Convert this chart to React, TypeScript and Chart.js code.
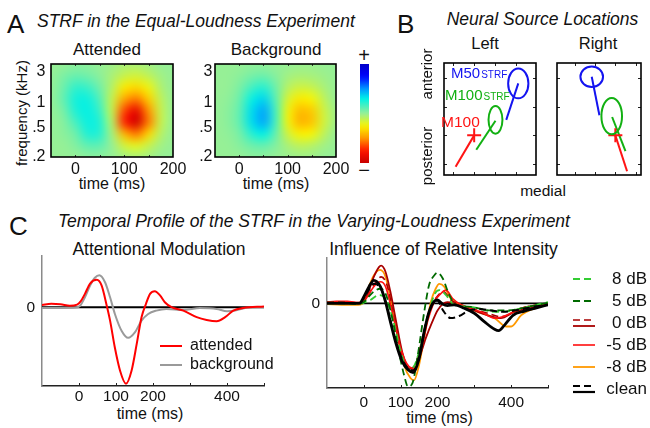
import React, { useEffect, useRef } from 'react';
import { Chart, registerables } from 'chart.js';

Chart.register(...registerables);

const FONT = '"Liberation Sans", Arial, Helvetica, sans-serif';
Chart.defaults.font.family = FONT;
Chart.defaults.color = '#111';

// ---------------- Panel A: STRF heatmaps ----------------
const strfTimes = [-50, -25, 0, 25, 50, 75, 100, 125, 150, 175, 200];
const strfFreqRows = [1, 0.875, 0.75, 0.625, 0.5, 0.375, 0.25, 0.125, 0];
const strfAttended = [
  [0, 0, 0.02, 0.02, 0, -0.02, -0.05, -0.05, -0.03, 0, 0],
  [0, 0.05, 0.09, 0.07, 0.02, -0.05, -0.12, -0.15, -0.1, -0.03, 0],
  [0, 0.08, 0.2, 0.18, 0.07, -0.08, -0.28, -0.32, -0.22, -0.06, 0],
  [0, 0.1, 0.26, 0.27, 0.13, -0.12, -0.45, -0.55, -0.35, -0.1, 0],
  [0, 0.06, 0.24, 0.29, 0.18, -0.12, -0.65, -0.87, -0.5, -0.12, 0],
  [0, 0.03, 0.16, 0.28, 0.23, -0.08, -0.72, -0.97, -0.55, -0.12, 0],
  [0, 0.02, 0.08, 0.24, 0.22, -0.04, -0.42, -0.56, -0.33, -0.08, 0],
  [0, 0, 0.04, 0.11, 0.11, 0, -0.15, -0.2, -0.12, -0.03, 0],
  [0, 0, 0, 0.02, 0.02, 0, -0.03, -0.05, -0.03, 0, 0],
];
const strfBackground = [
  [0, 0, 0, 0.01, 0.01, 0, 0, -0.01, -0.01, 0, 0],
  [0, 0, 0.02, 0.06, 0.08, 0.03, -0.03, -0.05, -0.04, -0.02, 0],
  [0, 0, 0.05, 0.16, 0.22, 0.08, -0.08, -0.14, -0.12, -0.05, 0],
  [0, 0.01, 0.08, 0.28, 0.36, 0.12, -0.16, -0.28, -0.24, -0.1, 0],
  [0, 0.02, 0.1, 0.34, 0.46, 0.16, -0.22, -0.4, -0.36, -0.14, -0.02],
  [0, 0.02, 0.1, 0.34, 0.46, 0.16, -0.22, -0.42, -0.38, -0.15, -0.02],
  [0, 0.01, 0.06, 0.22, 0.3, 0.1, -0.14, -0.26, -0.24, -0.1, 0],
  [0, 0, 0.03, 0.08, 0.1, 0.04, -0.05, -0.1, -0.08, -0.03, 0],
  [0, 0, 0, 0.02, 0.02, 0, -0.01, -0.02, -0.02, 0, 0],
];
const strfTimeTicks = [0, 100, 200];
const strfTimeMinorTicks = [0, 50, 100, 150];
const freqTickPos = [0.914, 0.581, 0.312, 0.0];
const freqTickLabels = ['3', '1', '.5', '.2'];
const colorbarLevels = [1, 0.9, 0.8, 0.7, 0.6, 0.5, 0.4, 0.3, 0.2, 0.1, 0, -0.1, -0.2, -0.3, -0.4, -0.5, -0.6, -0.7, -0.8, -0.9, -1];

// ---------------- Panel B: source locations ----------------
const bTicks = [1, 2, 3, 4];
const leftEllCx = [4.09, 3.01];
const leftEllCy = [3.81, 2.54];
const leftEllRx = [0.48, 0.33];
const leftEllRy = [0.52, 0.48];
const leftSegX = [[4.09, 3.52], [3.01, 2.1], [2.0, 1.12]];
const leftSegY = [[3.81, 2.54], [2.51, 1.5], [2.0, 0.91]];
const leftCross = [2.0, 2.0];
const rightEllCx = [1.83, 2.82];
const rightEllCy = [4.04, 2.67];
const rightEllRx = [0.56, 0.51];
const rightEllRy = [0.36, 0.63];
const rightSegX = [[1.83, 2.21], [2.84, 3.5], [3.0, 3.58]];
const rightSegY = [[4.04, 2.7], [2.64, 1.45], [2.0, 0.75]];
const rightCross = [3.0, 2.0];

// ---------------- Panel C: temporal profiles ----------------
const cTickValues = [0, 100, 200, 300, 400];
const cTickLabels = ['0', '100', '200', '', '400'];
const cMinorTicks = [0, 100, 200, 300, 400, 500];
const zeroLineTime = [-100, 500];
const zeroLineValue = [0, 0];

const attendedTime = [-100, -75, -50, -25, -5, 5, 16, 30, 48, 61, 75, 84, 97, 111, 127, 142, 156, 169, 181, 192, 205, 219, 232, 250, 282, 318, 345, 372, 395, 417, 444, 500];
const attendedValue = [0.03, 0.045, 0.04, 0.02, 0.035, 0.08, 0.175, 0.31, 0.36, 0.285, 0.02, -0.175, -0.53, -0.83, -1.0, -0.83, -0.48, -0.13, 0.045, 0.175, 0.21, 0.155, 0.065, 0.0, -0.045, -0.13, -0.167, -0.184, -0.13, -0.045, -0.01, 0.01];
const backgroundTime = [-100, -50, -10, 3, 16, 30, 43, 55, 70, 84, 97, 115, 133, 151, 169, 187, 209, 236, 282, 327, 372, 400, 422, 449, 500];
const backgroundValue = [-0.01, -0.01, -0.005, 0.02, 0.13, 0.285, 0.386, 0.417, 0.33, 0.13, -0.088, -0.307, -0.4, -0.33, -0.175, -0.088, -0.044, -0.022, -0.035, -0.01, -0.022, -0.053, -0.044, -0.01, 0];

const cleanTime = [-100, -60, -12, 0, 14, 27, 45, 59, 72, 86, 104, 120, 134, 150, 164, 177, 191, 200, 214, 227, 245, 273, 300, 327, 355, 366, 382, 405, 436, 464, 500];
const cleanValue = [0, 0, 0, 0.095, 0.24, 0.33, 0.24, 0.02, -0.26, -0.55, -0.83, -0.95, -0.99, -0.79, -0.4, -0.12, 0.03, 0.05, -0.01, -0.03, -0.02, -0.07, -0.14, -0.26, -0.37, -0.39, -0.31, -0.17, -0.11, -0.07, -0.02];
const cleanDashTime = [-100, -60, -12, 0, 14, 27, 45, 59, 72, 86, 104, 120, 134, 150, 164, 177, 191, 200, 215, 236, 259, 286, 314, 345, 380, 420, 460, 500];
const cleanDashValue = [0.01, 0.01, 0, 0.08, 0.2, 0.28, 0.22, 0.03, -0.24, -0.52, -0.8, -0.93, -0.96, -0.77, -0.4, -0.12, 0.03, 0.04, -0.1, -0.21, -0.18, -0.1, -0.08, -0.1, -0.12, -0.09, -0.05, -0.02];
const db0Time = [-100, -60, -20, 0, 9, 27, 41, 47, 59, 72, 86, 104, 122, 136, 150, 168, 186, 200, 214, 227, 250, 290, 336, 372, 409, 464, 500];
const db0Value = [0.02, 0.02, 0.01, 0.03, 0.12, 0.38, 0.52, 0.54, 0.45, 0.17, -0.21, -0.69, -0.93, -0.94, -0.79, -0.5, -0.26, -0.1, -0.01, 0.02, -0.01, -0.08, -0.17, -0.21, -0.12, -0.05, 0];
const db0DashTime = [-100, -60, -20, 0, 10, 27, 47, 63, 82, 104, 125, 141, 159, 177, 195, 216, 236, 264, 336, 372, 427, 500];
const db0DashValue = [0.01, 0.02, 0.01, 0.02, 0.1, 0.26, 0.38, 0.26, -0.21, -0.74, -0.93, -0.86, -0.5, -0.12, 0.07, 0.17, 0.05, -0.02, -0.14, -0.19, -0.07, 0];
const dbM5Time = [-100, -75, -45, -15, 0, 10, 27, 45, 59, 77, 100, 122, 138, 155, 173, 191, 209, 223, 241, 264, 318, 355, 377, 427, 500];
const dbM5Value = [0.02, 0.03, 0.03, 0.01, 0.03, 0.1, 0.24, 0.31, 0.24, -0.12, -0.64, -0.9, -0.93, -0.69, -0.26, 0.02, 0.14, 0.19, 0.07, -0.02, -0.12, -0.21, -0.19, -0.07, 0];
const dbM8Time = [-100, -60, -15, 0, 9, 27, 44, 59, 72, 91, 109, 127, 136, 150, 168, 182, 195, 205, 218, 236, 264, 309, 355, 386, 400, 427, 464, 500];
const dbM8Value = [-0.01, -0.02, -0.02, 0.02, 0.17, 0.4, 0.48, 0.38, 0.07, -0.45, -0.88, -1.07, -1.1, -0.88, -0.36, 0.02, 0.21, 0.28, 0.24, 0.07, -0.02, -0.12, -0.21, -0.33, -0.33, -0.17, -0.07, -0.01];
const db8Time = [-100, -60, -15, 0, 18, 41, 59, 77, 100, 120, 136, 155, 173, 191, 205, 223, 245, 291, 355, 391, 445, 500];
const db8Value = [0, 0, -0.01, 0.01, 0.05, 0.12, 0.07, -0.19, -0.69, -0.95, -0.9, -0.6, -0.21, 0.12, 0.19, 0.12, -0.02, -0.05, -0.12, -0.11, -0.05, 0.02];
const db5Time = [-100, -60, -15, 0, 10, 27, 44, 59, 77, 95, 109, 120, 132, 145, 164, 177, 191, 200, 214, 232, 250, 291, 345, 391, 445, 500];
const db5Value = [0.01, 0.01, 0, 0.02, 0.08, 0.17, 0.21, 0.14, -0.21, -0.69, -1.02, -1.19, -1.14, -0.79, -0.12, 0.26, 0.4, 0.44, 0.36, 0.12, -0.02, -0.05, -0.1, -0.1, -0.05, 0.01];
const intensityLabels = ['8 dB', '5 dB', '0 dB', '-5 dB', '-8 dB', 'clean'];

// ---------------- styling ----------------
const BLUE = '#1414f0';
const GREEN = '#12b012';
const RED = '#ff1414';

const colorStops: [number, number[]][] = [
  [1, [0, 0, 200]],
  [0.75, [0, 0, 255]],
  [0.5, [0, 150, 255]],
  [0.3, [0, 240, 230]],
  [0, [150, 240, 150]],
  [-0.25, [250, 245, 0]],
  [-0.5, [255, 150, 0]],
  [-0.75, [255, 20, 0]],
  [-1, [200, 0, 0]],
];
function strfColor(v: number): number[] {
  if (v >= colorStops[0][0]) return colorStops[0][1];
  for (let i = 0; i < colorStops.length - 1; i++) {
    const [a, ca] = colorStops[i];
    const [b, cb] = colorStops[i + 1];
    if (v <= a && v >= b) {
      const f = (a - v) / (a - b);
      return [0, 1, 2].map((k) => Math.round(ca[k] + (cb[k] - ca[k]) * f));
    }
  }
  return colorStops[colorStops.length - 1][1];
}

const fixSize = (w?: number, h?: number) => (s: any) => {
  if (w !== undefined) s.width = w;
  if (h !== undefined) s.height = h;
  s.paddingTop = 0;
  s.paddingBottom = 0;
  s.paddingLeft = 0;
  s.paddingRight = 0;
};

function drawGridImage(chart: any, grid: number[][], cols: number[], rows: number[], blur: number) {
  const { ctx, chartArea: ca, scales } = chart;
  const xs = scales.x;
  const ys = scales.y;
  const nC = cols.length;
  const nR = rows.length;
  const off = document.createElement('canvas');
  off.width = nC;
  off.height = nR;
  const octx = off.getContext('2d')!;
  const img = octx.createImageData(nC, nR);
  for (let r = 0; r < nR; r++) {
    for (let c = 0; c < nC; c++) {
      const col = strfColor(grid[r][c]);
      const k = (r * nC + c) * 4;
      img.data[k] = col[0];
      img.data[k + 1] = col[1];
      img.data[k + 2] = col[2];
      img.data[k + 3] = 255;
    }
  }
  octx.putImageData(img, 0, 0);
  const x0 = xs.getPixelForValue(cols[0]);
  const x1 = xs.getPixelForValue(cols[nC - 1]);
  const cw = nC > 1 ? (x1 - x0) / (nC - 1) : ca.right - ca.left;
  const y0 = ys.getPixelForValue(rows[0]);
  const y1 = ys.getPixelForValue(rows[nR - 1]);
  const ch = (y1 - y0) / (nR - 1);
  ctx.save();
  ctx.beginPath();
  ctx.rect(ca.left, ca.top, ca.right - ca.left, ca.bottom - ca.top);
  ctx.clip();
  const bg = strfColor(0);
  ctx.fillStyle = `rgb(${bg[0]},${bg[1]},${bg[2]})`;
  ctx.fillRect(ca.left, ca.top, ca.right - ca.left, ca.bottom - ca.top);
  ctx.imageSmoothingEnabled = true;
  (ctx as any).imageSmoothingQuality = 'high';
  if (blur > 0) ctx.filter = `blur(${blur}px)`;
  ctx.drawImage(off, x0 - cw / 2, y0 - ch / 2, cw * nC, ch * nR);
  ctx.filter = 'none';
  ctx.restore();
}

function heatmapPlugin(grid: number[][]) {
  return {
    id: 'strfHeatmap',
    beforeDatasetsDraw(chart: any) {
      drawGridImage(chart, grid, strfTimes, strfFreqRows, 2.5);
    },
    afterDraw(chart: any) {
      const { ctx, chartArea: ca, scales } = chart;
      ctx.save();
      ctx.strokeStyle = '#333';
      ctx.lineWidth = 1;
      for (const t of strfTimeMinorTicks) {
        const x = Math.round(scales.x.getPixelForValue(t)) + 0.5;
        ctx.beginPath();
        ctx.moveTo(x, ca.top);
        ctx.lineTo(x, ca.top + 2);
        ctx.moveTo(x, ca.bottom);
        ctx.lineTo(x, ca.bottom - 2);
        ctx.stroke();
      }
      ctx.strokeStyle = '#000';
      ctx.lineWidth = 1.6;
      ctx.strokeRect(ca.left, ca.top, ca.right - ca.left, ca.bottom - ca.top);
      ctx.restore();
    },
  };
}

function heatmapConfig(grid: number[][], yWidth: number, yPad: number, padTop: number, padRight: number): any {
  return {
    type: 'scatter',
    data: { datasets: [] },
    plugins: [heatmapPlugin(grid)],
    options: {
      responsive: false,
      animation: false,
      events: [],
      layout: { padding: { top: padTop, right: padRight, left: 0, bottom: 0 } },
      plugins: { legend: { display: false }, tooltip: { enabled: false } },
      scales: {
        x: {
          type: 'linear',
          min: -50,
          max: 200,
          afterBuildTicks: (s: any) => { s.ticks = strfTimeTicks.map((v) => ({ value: v })); },
          afterFit: fixSize(undefined, 43),
          grid: { display: false, drawTicks: false },
          border: { display: false },
          ticks: { font: { size: 16 }, padding: 3.4, maxRotation: 0, autoSkip: false, color: '#111' },
        },
        y: {
          type: 'linear',
          min: 0,
          max: 1,
          afterBuildTicks: (s: any) => { s.ticks = freqTickPos.map((v) => ({ value: v })); },
          afterFit: fixSize(yWidth, undefined),
          grid: { display: false, drawTicks: false },
          border: { display: false },
          ticks: {
            font: { size: 16 },
            padding: yPad,
            autoSkip: false,
            color: '#111',
            callback: (_v: any, i: number) => freqTickLabels[i],
          },
        },
      },
    },
  };
}

function colorbarConfig(): any {
  return {
    type: 'scatter',
    data: { datasets: [] },
    plugins: [
      {
        id: 'colorbar',
        beforeDatasetsDraw(chart: any) {
          const grid = colorbarLevels.map((l) => [l]);
          drawGridImage(chart, grid, [0.5], colorbarLevels, 0);
        },
      },
    ],
    options: {
      responsive: false,
      animation: false,
      events: [],
      layout: { padding: { left: 5, right: 6, top: 4, bottom: 7 } },
      plugins: { legend: { display: false }, tooltip: { enabled: false } },
      scales: {
        x: { type: 'linear', min: 0, max: 1, display: false, afterFit: fixSize() },
        y: { type: 'linear', min: -1, max: 1, display: false, afterFit: fixSize() },
      },
    },
  };
}

function sourceConfig(
  ell: { cx: number[]; cy: number[]; rx: number[]; ry: number[] },
  segX: number[][],
  segY: number[][],
  cross: number[],
  xMin: number,
  xMax: number,
  pad: { left: number; right: number; top: number; bottom: number }
): any {
  const segColors = [BLUE, GREEN, RED];
  const ellColors = [BLUE, GREEN];
  const datasets: any[] = segX.map((xs, i) => ({
    data: xs.map((x, j) => ({ x, y: segY[i][j] })),
    showLine: true,
    borderColor: segColors[i],
    borderWidth: 2,
    pointRadius: 0,
  }));
  datasets.unshift({
    data: [{ x: cross[0], y: cross[1] }],
    showLine: false,
    pointStyle: 'cross',
    pointRadius: 7,
    pointBorderWidth: 2,
    pointBorderColor: RED,
    borderColor: RED,
  });
  return {
    type: 'scatter',
    data: { datasets },
    plugins: [
      {
        id: 'sources',
        afterDatasetsDraw(chart: any) {
          const { ctx, scales } = chart;
          const xs = scales.x;
          const ys = scales.y;
          ctx.save();
          ctx.lineWidth = 2;
          ell.cx.forEach((cx: number, i: number) => {
            const px = xs.getPixelForValue(cx);
            const py = ys.getPixelForValue(ell.cy[i]);
            const rx = Math.abs(xs.getPixelForValue(cx + ell.rx[i]) - px);
            const ry = Math.abs(ys.getPixelForValue(ell.cy[i] + ell.ry[i]) - py);
            ctx.strokeStyle = ellColors[i];
            ctx.beginPath();
            ctx.ellipse(px, py, rx, ry, 0, 0, Math.PI * 2);
            ctx.stroke();
          });
          ctx.restore();
        },
        afterDraw(chart: any) {
          const { ctx, chartArea: ca, scales } = chart;
          ctx.save();
          ctx.strokeStyle = '#222';
          ctx.lineWidth = 1;
          for (const v of bTicks) {
            const x = Math.round(scales.x.getPixelForValue(v)) + 0.5;
            if (x > ca.left + 1 && x < ca.right - 1) {
              ctx.beginPath();
              ctx.moveTo(x, ca.bottom);
              ctx.lineTo(x, ca.bottom - 3);
              ctx.moveTo(x, ca.top);
              ctx.lineTo(x, ca.top + 3);
              ctx.stroke();
            }
            const y = Math.round(scales.y.getPixelForValue(v)) + 0.5;
            if (y > ca.top + 1 && y < ca.bottom - 1) {
              ctx.beginPath();
              ctx.moveTo(ca.left, y);
              ctx.lineTo(ca.left + 3, y);
              ctx.moveTo(ca.right, y);
              ctx.lineTo(ca.right - 3, y);
              ctx.stroke();
            }
          }
          ctx.strokeStyle = '#000';
          ctx.lineWidth = 1.6;
          ctx.strokeRect(ca.left, ca.top, ca.right - ca.left, ca.bottom - ca.top);
          ctx.restore();
        },
      },
    ],
    options: {
      responsive: false,
      animation: false,
      events: [],
      layout: { padding: pad },
      plugins: { legend: { display: false }, tooltip: { enabled: false } },
      scales: {
        x: { type: 'linear', min: xMin, max: xMax, display: false, afterFit: fixSize() },
        y: { type: 'linear', min: 0.62, max: 4.52, display: false, afterFit: fixSize() },
      },
    },
  };
}

type Series = { t: number[]; v: number[]; color: string; width: number; dash: number[] };

function lineDataset(s: Series): any {
  return {
    data: s.t.map((t, i) => ({ x: t, y: s.v[i] })),
    showLine: true,
    borderColor: s.color,
    borderWidth: s.width,
    borderDash: s.dash,
    pointRadius: 0,
    cubicInterpolationMode: 'monotone',
  };
}

function profileConfig(
  series: Series[],
  yMin: number,
  yMax: number,
  yWidth: number,
  xHeight: number,
  xPad: number,
  pad: any,
  legend: { labels: string[]; rows: Series[][]; dx: number; dy: number; gap: number; size: number; rightAlign: boolean }
): any {
  const zero: Series = { t: zeroLineTime, v: zeroLineValue, color: '#000', width: 1.8, dash: [] };
  const datasets = [...series, zero].map(lineDataset);
  return {
    type: 'scatter',
    data: { datasets },
    plugins: [
      {
        id: 'profileExtras',
        afterDraw(chart: any) {
          const { ctx, chartArea: ca, scales } = chart;
          ctx.save();
          ctx.strokeStyle = '#222';
          ctx.lineWidth = 1;
          for (const t of cMinorTicks) {
            const x = Math.round(scales.x.getPixelForValue(t)) + 0.5;
            ctx.beginPath();
            ctx.moveTo(x, ca.bottom);
            ctx.lineTo(x, ca.bottom - 3);
            ctx.stroke();
          }
          ctx.font = `${legend.size}px ${FONT}`;
          ctx.textBaseline = 'middle';
          ctx.fillStyle = '#111';
          legend.labels.forEach((lab, i) => {
            const y = ca.top + legend.dy + i * legend.gap;
            const x0 = legend.rightAlign ? ca.right + legend.dx : ca.left + legend.dx;
            const x1 = x0 + 22;
            const group = legend.rows[i];
            group.forEach((s, j) => {
              const off = group.length > 1 ? (j === 0 ? -3 : 3) : 0;
              ctx.strokeStyle = s.color;
              ctx.lineWidth = Math.min(s.width, 2.2);
              ctx.setLineDash(s.dash);
              ctx.beginPath();
              ctx.moveTo(x0, y + off);
              ctx.lineTo(x1, y + off);
              ctx.stroke();
            });
            ctx.setLineDash([]);
            if (legend.rightAlign) {
              ctx.textAlign = 'right';
              ctx.fillText(lab, chart.width - 3, y);
            } else {
              ctx.textAlign = 'left';
              ctx.fillText(lab, x1 + 8, y);
            }
          });
          ctx.restore();
        },
      },
    ],
    options: {
      responsive: false,
      animation: false,
      events: [],
      layout: { padding: pad },
      plugins: { legend: { display: false }, tooltip: { enabled: false } },
      scales: {
        x: {
          type: 'linear',
          min: -100,
          max: 500,
          afterBuildTicks: (s: any) => { s.ticks = cTickValues.map((v) => ({ value: v })); },
          afterFit: fixSize(undefined, xHeight),
          grid: { display: false, drawTicks: false },
          border: { display: true, color: '#222', width: 1.5 },
          ticks: {
            font: { size: 15.5 },
            padding: xPad,
            maxRotation: 0,
            autoSkip: false,
            color: '#111',
            callback: (_v: any, i: number) => cTickLabels[i],
          },
        },
        y: {
          type: 'linear',
          min: yMin,
          max: yMax,
          afterBuildTicks: (s: any) => { s.ticks = [{ value: 0 }]; },
          afterFit: fixSize(yWidth, undefined),
          grid: { display: false, drawTicks: false },
          border: { display: true, color: '#8a8a8a', width: 1.5 },
          ticks: { font: { size: 15.5 }, padding: 7, color: '#111', callback: () => '0' },
        },
      },
    },
  };
}

// ---------------- components ----------------
function ChartCanvas({ left, top, width, height, make }: { left: number; top: number; width: number; height: number; make: () => any }) {
  const ref = useRef<HTMLCanvasElement>(null);
  useEffect(() => {
    const chart = new Chart(ref.current as HTMLCanvasElement, make());
    return () => chart.destroy();
  }, []);
  return (
    <canvas
      ref={ref}
      width={width}
      height={height}
      style={{ position: 'absolute', left, top, width, height, display: 'block' }}
    />
  );
}

type LP = {
  x: number;
  y: number;
  size: number;
  align?: 'left' | 'center' | 'right';
  italic?: boolean;
  color?: string;
  rotate?: boolean;
  children: React.ReactNode;
};
function Label({ x, y, size, align = 'left', italic = false, color = '#111', rotate = false, children }: LP) {
  const base: React.CSSProperties = {
    position: 'absolute',
    whiteSpace: 'nowrap',
    fontFamily: FONT,
    fontSize: size,
    lineHeight: `${size}px`,
    color,
    fontStyle: italic ? 'italic' : 'normal',
  };
  if (rotate) {
    return <div style={{ ...base, left: x, top: y, transform: 'translate(-50%, -50%) rotate(-90deg)' }}>{children}</div>;
  }
  const tx = align === 'center' ? 'translateX(-50%)' : align === 'right' ? 'translateX(-100%)' : 'none';
  return <div style={{ ...base, left: x, top: y - 0.8465 * size, transform: tx }}>{children}</div>;
}

export default function App() {
  const attended: Series = { t: attendedTime, v: attendedValue, color: '#ff0000', width: 2, dash: [] };
  const background: Series = { t: backgroundTime, v: backgroundValue, color: '#9a9a9a', width: 2, dash: [] };

  const clean: Series = { t: cleanTime, v: cleanValue, color: '#000000', width: 2.8, dash: [] };
  const cleanDash: Series = { t: cleanDashTime, v: cleanDashValue, color: '#000000', width: 2, dash: [7, 4] };
  const db0: Series = { t: db0Time, v: db0Value, color: '#a80000', width: 1.8, dash: [] };
  const db0Dash: Series = { t: db0DashTime, v: db0DashValue, color: '#a80000', width: 1.6, dash: [7, 4] };
  const dbM5: Series = { t: dbM5Time, v: dbM5Value, color: '#ff1010', width: 1.6, dash: [] };
  const dbM8: Series = { t: dbM8Time, v: dbM8Value, color: '#ff9900', width: 1.8, dash: [] };
  const db8: Series = { t: db8Time, v: db8Value, color: '#33cc33', width: 1.8, dash: [7, 4] };
  const db5: Series = { t: db5Time, v: db5Value, color: '#006a00', width: 1.8, dash: [7, 4] };

  return (
    <div style={{ position: 'fixed', left: 0, top: 0, width: 650, height: 428, background: '#fff', overflow: 'hidden' }}>
      {/* Panel A */}
      <Label x={7} y={33} size={26}>A</Label>
      <Label x={37} y={27.5} size={17.5} italic>STRF in the Equal-Loudness Experiment</Label>
      <Label x={107} y={55} size={17} align="center">Attended</Label>
      <Label x={276} y={55} size={17} align="center">Background</Label>
      <Label x={21} y={113} size={15} rotate>frequency (kHz)</Label>
      <Label x={112} y={190} size={16} align="center">time (ms)</Label>
      <Label x={276} y={190} size={16} align="center">time (ms)</Label>
      <Label x={364} y={62} size={20} align="center">+</Label>
      <Label x={364} y={177} size={20} align="center">−</Label>
      <ChartCanvas left={0} top={56} width={192} height={144} make={() => heatmapConfig(strfAttended, 51, 5.5, 8, 19)} />
      <ChartCanvas left={190} top={56} width={165} height={144} make={() => heatmapConfig(strfBackground, 25, 2.5, 8, 19)} />
      <ChartCanvas left={355} top={60} width={20} height={110} make={colorbarConfig} />

      {/* Panel B */}
      <Label x={397} y={33} size={26}>B</Label>
      <Label x={542.5} y={26} size={17.5} italic align="center">Neural Source Locations</Label>
      <Label x={485} y={49} size={16.5} align="center">Left</Label>
      <Label x={598} y={49} size={16.5} align="center">Right</Label>
      <Label x={426} y={74} size={15} rotate>anterior</Label>
      <Label x={426} y={156} size={15} rotate>posterior</Label>
      <Label x={543} y={196} size={15.5} align="center">medial</Label>
      <ChartCanvas
        left={435}
        top={54}
        width={110}
        height={130}
        make={() =>
          sourceConfig(
            { cx: leftEllCx, cy: leftEllCy, rx: leftEllRx, ry: leftEllRy },
            leftSegX,
            leftSegY,
            leftCross,
            0.57,
            4.93,
            { left: 3, right: 5, top: 3, bottom: 5 }
          )
        }
      />
      <ChartCanvas
        left={548}
        top={54}
        width={102}
        height={130}
        make={() =>
          sourceConfig(
            { cx: rightEllCx, cy: rightEllCy, rx: rightEllRx, ry: rightEllRy },
            rightSegX,
            rightSegY,
            rightCross,
            0.11,
            4.27,
            { left: 3, right: 2, top: 3, bottom: 5 }
          )
        }
      />
      <Label x={451} y={78} size={15} color={BLUE}>
        M50<span style={{ fontSize: 10, marginLeft: 1 }}>STRF</span>
      </Label>
      <Label x={445} y={100} size={15} color={GREEN}>
        M100<span style={{ fontSize: 10, marginLeft: 1 }}>STRF</span>
      </Label>
      <Label x={441} y={127} size={15.5} color={RED}>M100</Label>

      {/* Panel C */}
      <Label x={9} y={235} size={26}>C</Label>
      <Label x={58} y={228} size={17.5} italic>Temporal Profile of the STRF in the Varying-Loudness Experiment</Label>
      <Label x={159} y={255.5} size={17.5} align="center">Attentional Modulation</Label>
      <Label x={443.5} y={256} size={17.5} align="center">Influence of Relative Intensity</Label>
      <Label x={150} y={419.5} size={16} align="center">time (ms)</Label>
      <Label x={439.5} y={423.5} size={16} align="center">time (ms)</Label>
      <ChartCanvas
        left={0}
        top={250}
        width={280}
        height={178}
        make={() =>
          profileConfig([attended, background], -1.03, 0.67, 42, 42, 1.5, { top: 6, right: 16, left: 0, bottom: 0 }, {
            labels: ['attended', 'background'],
            rows: [[attended], [background]],
            dx: 118,
            dy: 90,
            gap: 19,
            size: 16,
            rightAlign: false,
          })
        }
      />
      <ChartCanvas
        left={290}
        top={250}
        width={360}
        height={178}
        make={() =>
          profileConfig([clean, cleanDash, db5, db8, dbM5, db0, db0Dash, dbM8], -1.21, 0.65, 37, 40, 5, { top: 8, right: 102, left: 0, bottom: 0 }, {
            labels: intensityLabels,
            rows: [[db8], [db5], [db0Dash, db0], [dbM5], [dbM8], [cleanDash, clean]],
            dx: 25,
            dy: 21,
            gap: 22,
            size: 17,
            rightAlign: true,
          })
        }
      />
    </div>
  );
}
